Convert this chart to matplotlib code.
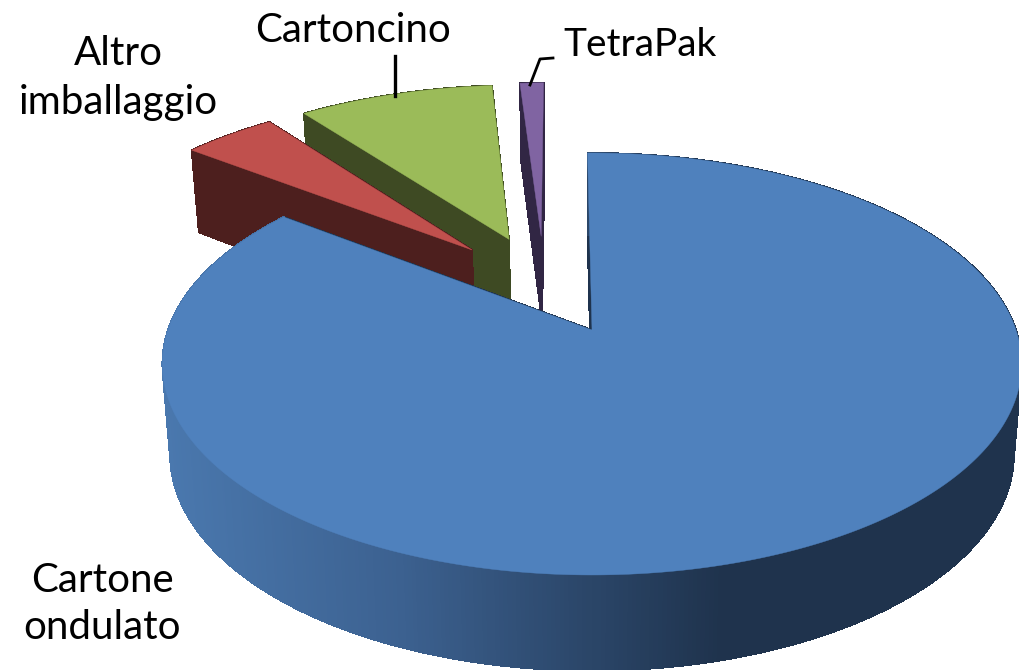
import numpy as np
import matplotlib
matplotlib.use('Agg')
from matplotlib import pyplot as plt
from matplotlib.collections import PolyCollection
from matplotlib.colors import to_rgb

plt.rcParams['font.family'] = ['Lato', 'DejaVu Sans']

# clockwise from 12 o'clock
labels = ['Cartone\nondulato', 'Altro\nimballaggio', 'Cartoncino', 'TetraPak']
shares = [85.5, 4.3, 9.1, 1.1]
topColors = ['#4F81BD', '#C0504D', '#9BBB59', '#8064A2']
sideColors = ['#1F334D', '#4D1F1E', '#3E4A23', '#312644']

startAngle = -0.7
explode = 0.26
# projection of the pie plane on the picture
apexX, apexY = 592, 330
radiusX = 424
radiusY = -152.35
persp = 0.1611


def project(px, py):
    denom = 1 + persp * py
    return apexX + radiusX * px / denom, (apexY + radiusY * py) / denom


def extrude(x, y, py):
    depth = 89 - 6.7 * py
    return apexX + (x - apexX) * 0.982, y + depth


def rimColor(x):
    left = np.array(to_rgb('#4A78AE'))
    mid = np.array(to_rgb('#3C6190'))
    right = np.array(to_rgb('#1F334D'))
    r = np.interp(x, [165, 400, 720], [left[0], mid[0], right[0]])
    g = np.interp(x, [165, 400, 720], [left[1], mid[1], right[1]])
    b = np.interp(x, [165, 400, 720], [left[2], mid[2], right[2]])
    return (r, g, b)


def drawWedge(ax, start, end, index, z):
    mid = np.radians((start + end) / 2)
    ox = explode * np.sin(mid) + centerX
    oy = explode * np.cos(mid) + centerY

    angles = np.radians(np.linspace(start, end, max(int(end - start) * 2, 12)))
    rimPx = ox + np.sin(angles)
    rimPy = oy + np.cos(angles)
    px = np.concatenate(([ox], rimPx))
    py = np.concatenate(([oy], rimPy))

    x, y = project(px, py)
    bx, by = extrude(x, y, py)

    polys = []
    colors = []
    # both straight sides
    for a, b in [(0, 1), (0, len(x) - 1)]:
        polys.append([(x[a], y[a]), (x[b], y[b]), (bx[b], by[b]), (bx[a], by[a])])
        colors.append(sideColors[index])
    # outer rim, back to front
    order = np.argsort(py[1:-1])[::-1] + 1
    for i in order:
        j = i + 1
        polys.append([(x[i], y[i]), (x[j], y[j]), (bx[j], by[j]), (bx[i], by[i])])
        if index == 0:
            colors.append(rimColor((x[i] + x[j]) / 2))
        else:
            colors.append(sideColors[index])
    ax.add_collection(PolyCollection(polys, facecolors=colors, edgecolors=colors,
                                     linewidths=0.6, antialiaseds=False, zorder=z))
    ax.fill(x, y, color=topColors[index], lw=0.3, zorder=z + 0.5)


fig = plt.figure(figsize=(10.19, 6.70), dpi=100, frameon=False)
ax = fig.add_axes([0, 0, 1, 1])
ax.set_xlim(0, 1019)
ax.set_ylim(670, 0)
ax.axis('off')

edges = startAngle + np.concatenate(([0], np.cumsum(shares))) * 3.6
mainMid = np.radians((edges[0] + edges[1]) / 2)
# main slice is exploded too, so the pie centre sits away from its apex
centerX = -explode * np.sin(mainMid)
centerY = -explode * np.cos(mainMid)

# cartoncino sits behind altro, main is in front of all
for z, index in enumerate([2, 1, 3, 0]):
    drawWedge(ax, edges[index], edges[index + 1], index, z + 1)

ax.plot([395, 395], [56, 96], color='black', lw=2.4, zorder=8)
ax.plot([553, 540, 530], [58, 59, 85], color='black', lw=2, zorder=8)

ax.text(102, 604, labels[0], ha='center', va='center', fontsize=29, linespacing=1.35, zorder=9)
ax.text(118, 78, labels[1], ha='center', va='center', fontsize=29, linespacing=1.4, zorder=9)
ax.text(353, 30, labels[2], ha='center', va='center', fontsize=29, zorder=9)
ax.text(640, 45, labels[3], ha='center', va='center', fontsize=28, zorder=9)

plt.savefig('out.png', dpi=100)
